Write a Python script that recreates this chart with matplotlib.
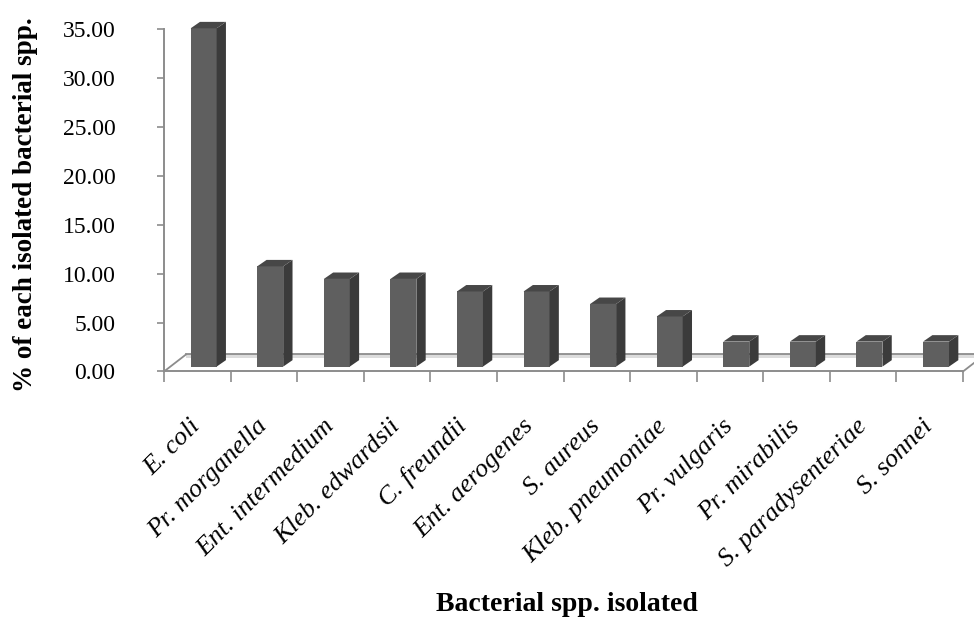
import matplotlib.pyplot as plt
import matplotlib.transforms as mtransforms
from matplotlib.patches import Polygon

# % share of each isolated species
species = ['E. coli', 'Pr. morganella', 'Ent. intermedium', 'Kleb. edwardsii',
           'C. freundii', 'Ent. aerogenes', 'S. aureus', 'Kleb. pneumoniae',
           'Pr. vulgaris', 'Pr. mirabilis', 'S. paradysenteriae', 'S. sonnei']
percent = [34.62, 10.26, 8.97, 8.97, 7.69, 7.69, 6.41, 5.13, 2.56, 2.56, 2.56, 2.56]
yticks = [0, 5, 10, 15, 20, 25, 30, 35]

front_col = '#5f5f5f'
side_col = '#3b3b3b'
top_col = '#474747'
axis_col = '#8c8c8c'

fig = plt.figure(figsize=(9.74, 6.17), dpi=100)
ax = fig.add_axes([0.1684, 0.3979, 0.8203, 0.5543])
ax.set_xlim(0, 12)
ax.set_ylim(0, 35)

# pseudo 3-D geometry (category / value units)
depth_x, depth_y = 0.33, 1.74      # floor depth
side_dx, side_dy = 0.14, 0.66      # bar side / top offset
lift = 0.5                          # bars sit slightly behind the front edge
x0, x1 = 0.40, 0.79                 # front face within a category

# floor: back edge line and thin light band
ax.add_patch(Polygon([(depth_x, depth_y - 0.36), (12 + depth_x, depth_y - 0.36),
                      (12 + depth_x, depth_y), (depth_x, depth_y)],
                     closed=True, facecolor='#dcdcdc', edgecolor='none',
                     zorder=1, clip_on=False))
ax.plot([depth_x, 12 + depth_x], [depth_y, depth_y], color=axis_col, lw=1.3,
        zorder=1.5, clip_on=False)
ax.plot([0, depth_x], [0, depth_y], color=axis_col, lw=1.3, clip_on=False)
ax.plot([12, 12 + depth_x], [0, depth_y], color=axis_col, lw=1.3, clip_on=False)

for i, v in enumerate(percent):
    l, r = i + x0, i + x1
    b, t = lift, lift + v
    front = Polygon([(l, b), (r, b), (r, t), (l, t)], closed=True,
                    facecolor=front_col, edgecolor='none', zorder=3)
    side = Polygon([(r, b), (r + side_dx, b + side_dy), (r + side_dx, t + side_dy), (r, t)],
                   closed=True, facecolor=side_col, edgecolor='none', zorder=3)
    top = Polygon([(l, t), (r, t), (r + side_dx, t + side_dy), (l + side_dx, t + side_dy)],
                  closed=True, facecolor=top_col, edgecolor='none', zorder=3)
    for p in (front, side, top):
        p.set_clip_on(False)
        ax.add_patch(p)

for s in ('top', 'right'):
    ax.spines[s].set_visible(False)
for s in ('left', 'bottom'):
    ax.spines[s].set_color(axis_col)
    ax.spines[s].set_linewidth(1.4)

ax.set_yticks(yticks)
ax.set_yticklabels(['%.2f' % t for t in yticks], fontsize=17,
                   fontfamily='Liberation Serif')
ax.tick_params(axis='y', direction='out', length=5, width=1.2, color=axis_col, pad=30)
ax.set_xticks(range(13))
ax.set_xticklabels([])
ax.tick_params(axis='x', direction='out', length=8, width=1.2, color=axis_col)

trans = mtransforms.blended_transform_factory(ax.transData, ax.transAxes)
for i, name in enumerate(species):
    ax.text(i + 0.5, -0.15, name, transform=trans, rotation=45,
            rotation_mode='anchor', ha='right', va='center',
            fontsize=19, fontstyle='italic', fontfamily='Liberation Serif')

fig.text(0.582, 0.021, 'Bacterial spp. isolated', ha='center', va='center',
         fontsize=20, fontweight='bold', fontfamily='Liberation Serif')
fig.text(0.026, 0.668, '% of each isolated bacterial spp.', rotation=90,
         ha='center', va='center', fontsize=19.5, fontweight='bold',
         fontfamily='Liberation Serif')

fig.savefig('out.png', dpi=100)
